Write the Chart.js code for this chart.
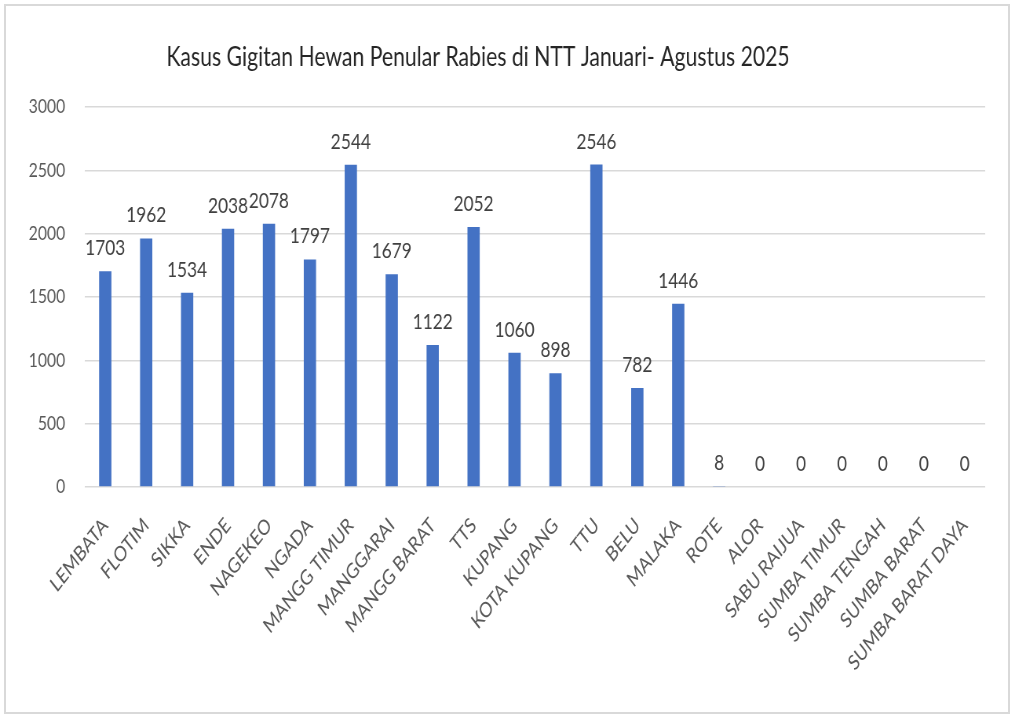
<!DOCTYPE html>
<html><head><meta charset="utf-8">
<script src="https://cdn.jsdelivr.net/npm/chart.js@4.4.1/dist/chart.umd.min.js"></script>
<style>
html,body{margin:0;padding:0;background:#fff;overflow:hidden;width:1012px;height:720px;}
#wrap{position:absolute;left:0;top:0;width:1289px;height:720px;transform:scaleX(0.785);transform-origin:0 0;}
#frame{position:absolute;left:4px;top:4px;width:1002px;height:706px;border:2px solid #d9d9d9;pointer-events:none;}
</style></head>
<body>
<div id="wrap"><canvas id="c" width="1289" height="720"></canvas></div>
<div id="frame"></div>
<script>
const chartTitle = "Kasus Gigitan Hewan Penular Rabies di NTT Januari- Agustus 2025";
const categories = ["LEMBATA","FLOTIM","SIKKA","ENDE","NAGEKEO","NGADA","MANGG TIMUR","MANGGARAI","MANGG BARAT","TTS","KUPANG","KOTA KUPANG","TTU","BELU","MALAKA","ROTE","ALOR","SABU RAIJUA","SUMBA TIMUR","SUMBA TENGAH","SUMBA BARAT","SUMBA BARAT DAYA"];
const cases = [1703,1962,1534,2038,2078,1797,2544,1679,1122,2052,1060,898,2546,782,1446,8,0,0,0,0,0,0];
const yMin = 0, yMax = 3000, yStep = 500;

const FONT = "Lato, 'Open Sans', sans-serif";

const titlePlugin = {
  id: 'customTitle',
  afterDraw(chart) {
    const ctx = chart.ctx;
    ctx.save();
    ctx.font = "27px " + FONT;
    ctx.fillStyle = "#262626";
    ctx.textAlign = "center";
    ctx.textBaseline = "middle";
    ctx.fillText(chartTitle, 609, 57);
    ctx.restore();
  }
};

const labelPlugin = {
  id: 'barLabels',
  afterDatasetsDraw(chart) {
    const ctx = chart.ctx;
    const meta = chart.getDatasetMeta(0);
    ctx.save();
    ctx.font = "22px " + FONT;
    ctx.fillStyle = "#404040";
    ctx.textAlign = "center";
    ctx.textBaseline = "alphabetic";
    meta.data.forEach((bar, i) => {
      ctx.fillText(String(cases[i]), bar.x, bar.y - 16);
    });
    ctx.restore();
  }
};

new Chart(document.getElementById('c'), {
  type: 'bar',
  data: {
    labels: categories,
    datasets: [{
      data: cases,
      backgroundColor: '#4472C4',
      borderWidth: 0,
      barPercentage: 0.3,
      categoryPercentage: 1.0
    }]
  },
  options: {
    responsive: false,
    animation: false,
    devicePixelRatio: 1,
    layout: { padding: { left: 0, right: 34, top: 107, bottom: 0 } },
    plugins: { legend: { display: false }, title: { display: false }, tooltip: { enabled: false } },
    scales: {
      x: {
        grid: { display: false, drawTicks: false },
        border: { display: false },
        ticks: {
          autoSkip: false,
          minRotation: 45,
          maxRotation: 45,
          padding: 26,
          color: '#595959',
          font: { family: FONT, size: 21 }
        },
        afterFit(s) { s.height = 233; }
      },
      y: {
        min: yMin,
        max: yMax,
        grid: { color: '#d9d9d9', lineWidth: 1.5, drawTicks: false },
        border: { display: false },
        ticks: {
          stepSize: yStep,
          padding: 25,
          color: '#595959',
          font: { family: FONT, size: 20 },
          callback: (v) => String(v)
        },
        afterFit(s) { s.width = 108; }
      }
    }
  },
  plugins: [titlePlugin, labelPlugin]
});
</script>
</body></html>
